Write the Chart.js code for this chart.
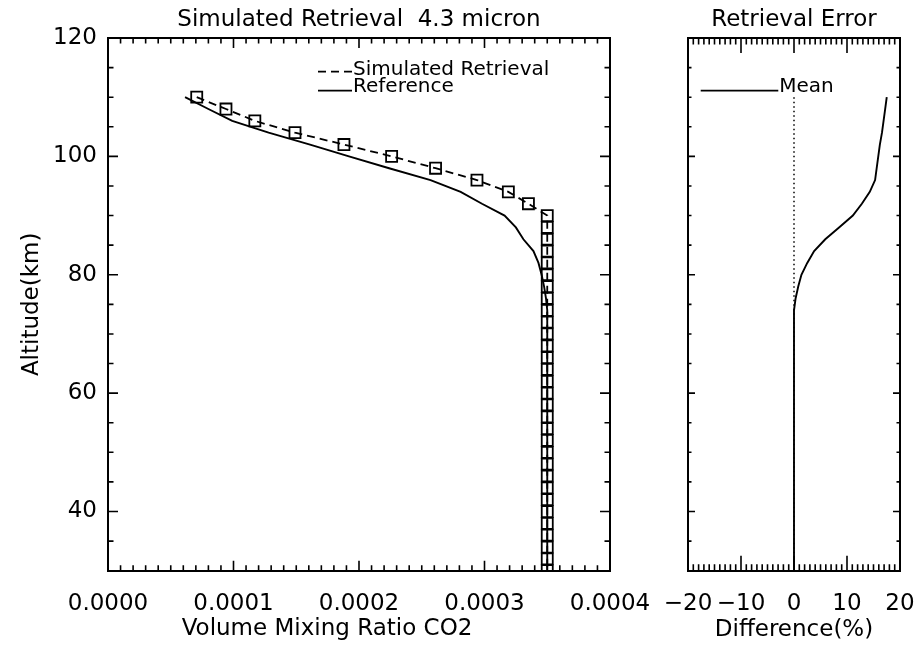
<!DOCTYPE html>
<html>
<head>
<meta charset="utf-8">
<script src="https://cdn.jsdelivr.net/npm/chart.js@4.4.1/dist/chart.umd.min.js"></script>
<style>
  html, body { margin: 0; padding: 0; background: #fff; }
  #wrap { position: relative; width: 916px; height: 646px; }
  canvas { position: absolute; top: 0; }
  #profileChart { left: 0; }
  #errorChart { left: 654px; }
</style>
</head>
<body>
<div id="wrap">
  <canvas id="profileChart" width="654" height="646"></canvas>
  <canvas id="errorChart" width="262" height="646"></canvas>
</div>
<script>
// altitude levels (km), top of the profile first
const altitudeKm = [110, 108, 106, 104, 102, 100, 98, 96, 94, 92, 90, 88, 86, 84, 82, 80,
  78, 76, 74, 72, 70, 68, 66, 64, 62, 60, 58, 56, 54, 52, 50, 48, 46, 44, 42, 40, 38, 36, 34, 32, 30];

// CO2 volume mixing ratio, simulated retrieval (squares, dashed)
const simulatedVmr = [0.0000707, 0.0000940, 0.0001170, 0.0001490, 0.0001880, 0.0002260, 0.0002610,
  0.0002940, 0.0003190, 0.0003350, 0.0003500, 0.0003500, 0.0003500, 0.0003500, 0.0003500, 0.0003500,
  0.0003500, 0.0003500, 0.0003500, 0.0003500, 0.0003500, 0.0003500, 0.0003500, 0.0003500, 0.0003500,
  0.0003500, 0.0003500, 0.0003500, 0.0003500, 0.0003500, 0.0003500, 0.0003500, 0.0003500, 0.0003500,
  0.0003500, 0.0003500, 0.0003500, 0.0003500, 0.0003500, 0.0003500, 0.0003500];

// CO2 volume mixing ratio, reference profile (solid)
const referenceVmr = [0.0000614, 0.0000800, 0.0000990, 0.0001280, 0.0001610, 0.0001920, 0.0002240,
  0.0002570, 0.0002810, 0.0002980, 0.0003160, 0.0003250, 0.0003310, 0.0003390, 0.0003430, 0.0003455,
  0.0003475, 0.0003490, 0.0003500, 0.0003500, 0.0003500, 0.0003500, 0.0003500, 0.0003500, 0.0003500,
  0.0003500, 0.0003500, 0.0003500, 0.0003500, 0.0003500, 0.0003500, 0.0003500, 0.0003500, 0.0003500,
  0.0003500, 0.0003500, 0.0003500, 0.0003500, 0.0003500, 0.0003500, 0.0003500];

// mean retrieval error (%)
const meanError = [17.5, 17.2, 16.9, 16.6, 16.2, 15.9, 15.6, 15.3, 14.3, 12.8, 11.1, 8.5, 5.9, 3.8,
  2.5, 1.4, 0.8, 0.3, 0.0, 0.0, 0.0, 0.0, 0.0, 0.0, 0.0, 0.0, 0.0, 0.0, 0.0, 0.0, 0.0, 0.0, 0.0, 0.0,
  0.0, 0.0, 0.0, 0.0, 0.0, 0.0, 0.0];

// dotted zero line in the error panel
const zeroLineAlt = [110, 30];
const zeroLineError = [0, 0];

const vmrTickLabels = ["0.0000", "0.0001", "0.0002", "0.0003", "0.0004"];
const errTickLabels = ["\u221220", "\u221210", "0", "10", "20"];
const altTickLabels = ["40", "60", "80", "100", "120"];

const FONT = "'DejaVu Sans', sans-serif";
Chart.defaults.font.family = FONT;
Chart.defaults.color = "#000";

const pairs = (xs, ys) => xs.map((v, i) => ({ x: v, y: ys[i] }));
const onStep = (v, step) => Math.abs(v / step - Math.round(v / step)) < 1e-6;

// IDL style ticks pointing into the plot, on all four sides
function insideTicks(c) {
  return {
    id: "insideTicks",
    afterDatasetsDraw(chart) {
      const { ctx, chartArea: a, scales } = chart;
      ctx.save();
      ctx.strokeStyle = "#000";
      ctx.lineWidth = 1.6;
      ctx.beginPath();
      scales.x.ticks.forEach(t => {
        const px = scales.x.getPixelForValue(t.value);
        const len = onStep(t.value, c.xMajor) ? c.xLong : c.xShort;
        ctx.moveTo(px, a.bottom); ctx.lineTo(px, a.bottom - len);
        ctx.moveTo(px, a.top); ctx.lineTo(px, a.top + len);
      });
      scales.y.ticks.forEach(t => {
        const py = scales.y.getPixelForValue(t.value);
        const len = onStep(t.value, c.yMajor) ? c.yLong : c.yShort;
        ctx.moveTo(a.left, py); ctx.lineTo(a.left + len, py);
        ctx.moveTo(a.right, py); ctx.lineTo(a.right - len, py);
      });
      ctx.stroke();
      ctx.restore();
    }
  };
}

// legend rows drawn inside the plot: sample line then label
function inlineLegend(rows) {
  return {
    id: "inlineLegend",
    afterDraw(chart) {
      const { ctx, chartArea: a } = chart;
      ctx.save();
      ctx.font = "20px " + FONT;
      ctx.fillStyle = "#000";
      ctx.strokeStyle = "#000";
      ctx.lineWidth = 1.8;
      rows.forEach(r => {
        const ds = chart.data.datasets[r.dataset];
        ctx.setLineDash(ds.borderDash || []);
        ctx.beginPath();
        ctx.moveTo(a.left + r.dx, a.top + r.lineDy);
        ctx.lineTo(a.left + r.dx + r.len, a.top + r.lineDy);
        ctx.stroke();
        ctx.setLineDash([]);
        ctx.textBaseline = "alphabetic";
        ctx.fillText(ds.label, a.left + r.dx + r.len + 1, a.top + r.textDy);
      });
      ctx.restore();
    }
  };
}

const frame = { display: true, color: "#000", width: 2 };
const noGrid = { drawOnChartArea: false, drawTicks: false, color: "rgba(0,0,0,0)" };

new Chart(document.getElementById("profileChart"), {
  type: "line",
  data: {
    datasets: [
      {
        label: "Simulated Retrieval",
        data: pairs(simulatedVmr, altitudeKm),
        borderColor: "#000",
        borderWidth: 1.8,
        borderDash: [8, 5],
        pointStyle: "rect",
        pointRadius: 7.8,
        pointBorderWidth: 1.8,
        pointBorderColor: "#000",
        pointBackgroundColor: "rgba(0,0,0,0)",
        tension: 0
      },
      {
        label: "Reference",
        data: pairs(referenceVmr, altitudeKm),
        borderColor: "#000",
        borderWidth: 1.9,
        pointRadius: 0,
        tension: 0
      }
    ]
  },
  options: {
    responsive: false,
    animation: false,
    events: [],
    layout: { padding: 0 },
    plugins: {
      legend: { display: false },
      tooltip: { enabled: false },
      title: {
        display: true,
        position: "bottom",
        text: "Volume Mixing Ratio CO2",
        font: { size: 23, weight: "normal" },
        padding: { top: 0, bottom: 3 }
      }
    },
    scales: {
      x: {
        type: "linear", position: "bottom", min: 0, max: 0.0004,
        afterFit: s => { s.height = 44.7; },
        border: frame,
        grid: { drawOnChartArea: false, drawTicks: true, tickLength: 19, color: "rgba(0,0,0,0)" },
        ticks: {
          stepSize: 0.00001, autoSkip: false, maxRotation: 0, minRotation: 0, padding: 1,
          font: { size: 23 },
          callback: v => onStep(v, 0.0001) ? vmrTickLabels[Math.round(v / 0.0001)] : ""
        }
      },
      xTop: {
        type: "linear", position: "top", min: 0, max: 0.0004,
        afterFit: s => { s.height = 38; },
        border: frame,
        grid: { display: false },
        ticks: { display: false },
        title: {
          display: true, text: "Simulated Retrieval  4.3 micron",
          font: { size: 23 }, padding: { top: 6, bottom: 0 }
        }
      },
      y: {
        type: "linear", position: "left", min: 30, max: 120,
        afterFit: s => { s.width = 108; },
        border: frame,
        grid: noGrid,
        ticks: {
          stepSize: 5, autoSkip: false, padding: 11, font: { size: 23 },
          callback: v => onStep(v, 20) ? altTickLabels[Math.round((v - 40) / 20)] : ""
        },
        title: {
          display: true, text: "Altitude(km)",
          font: { size: 23 }, padding: { top: 18, bottom: 0 }
        }
      },
      yRight: {
        type: "linear", position: "right", min: 30, max: 120,
        afterFit: s => { s.width = 44; },
        border: frame,
        grid: { display: false },
        ticks: { display: false }
      }
    }
  },
  plugins: [
    insideTicks({ xMajor: 0.0001, xLong: 10, xShort: 5.5, yMajor: 20, yLong: 10, yShort: 5.5 }),
    inlineLegend([
      { dataset: 0, dx: 210, len: 34, lineDy: 33.7, textDy: 37 },
      { dataset: 1, dx: 210, len: 34, lineDy: 52.7, textDy: 53.7 }
    ])
  ]
});

new Chart(document.getElementById("errorChart"), {
  type: "line",
  data: {
    datasets: [
      {
        label: "Mean",
        data: pairs(meanError, altitudeKm),
        borderColor: "#000",
        borderWidth: 1.9,
        pointRadius: 0,
        tension: 0
      },
      {
        label: "zero",
        data: pairs(zeroLineError, zeroLineAlt),
        borderColor: "#000",
        borderWidth: 1.5,
        borderDash: [1.5, 3],
        pointRadius: 0
      }
    ]
  },
  options: {
    responsive: false,
    animation: false,
    events: [],
    layout: { padding: 0 },
    plugins: {
      legend: { display: false },
      tooltip: { enabled: false }
    },
    scales: {
      x: {
        type: "linear", position: "bottom", min: -20, max: 20,
        afterFit: s => { s.height = 75.3; },
        border: frame,
        grid: { drawOnChartArea: false, drawTicks: true, tickLength: 19, color: "rgba(0,0,0,0)" },
        ticks: {
          stepSize: 1, autoSkip: false, maxRotation: 0, minRotation: 0, padding: 1,
          font: { size: 23 },
          callback: v => onStep(v, 10) ? errTickLabels[Math.round((v + 20) / 10)] : ""
        },
        title: {
          display: true, text: "Difference(%)",
          font: { size: 23 }, padding: { top: 0, bottom: 2 }
        }
      },
      xTop: {
        type: "linear", position: "top", min: -20, max: 20,
        afterFit: s => { s.height = 38; },
        border: frame,
        grid: { display: false },
        ticks: { display: false },
        title: {
          display: true, text: "Retrieval Error",
          font: { size: 23 }, padding: { top: 6, bottom: 0 }
        }
      },
      y: {
        type: "linear", position: "left", min: 30, max: 120,
        afterFit: s => { s.width = 34; },
        border: frame,
        grid: noGrid,
        ticks: { display: false, stepSize: 5, autoSkip: false }
      },
      yRight: {
        type: "linear", position: "right", min: 30, max: 120,
        afterFit: s => { s.width = 16; },
        border: frame,
        grid: { display: false },
        ticks: { display: false }
      }
    }
  },
  plugins: [
    insideTicks({ xMajor: 10, xLong: 15, xShort: 6.5, yMajor: 20, yLong: 7, yShort: 3.5 }),
    inlineLegend([
      { dataset: 0, dx: 12.7, len: 77.6, lineDy: 52.7, textDy: 53.7 }
    ])
  ]
});
</script>
</body>
</html>
